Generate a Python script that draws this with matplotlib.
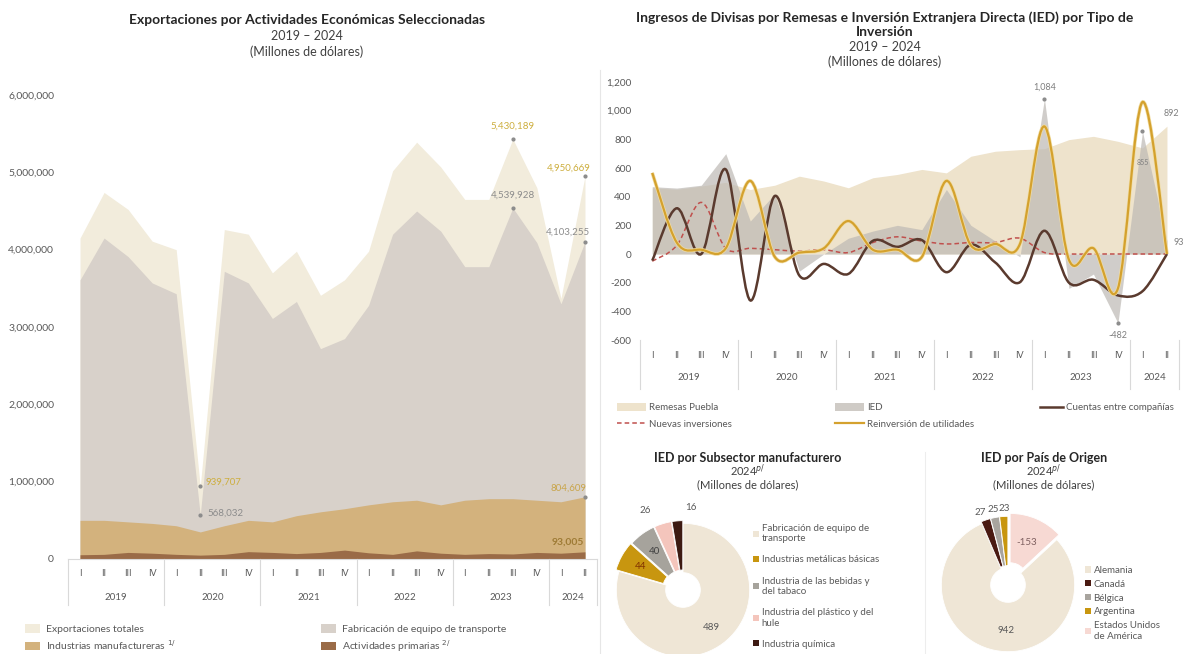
import numpy as np
import matplotlib.pyplot as plt
import matplotlib.transforms as mtransforms
import matplotlib.patheffects as pe
from matplotlib.path import Path
from matplotlib.patches import PathPatch, Patch
from matplotlib.lines import Line2D

plt.rcParams['font.family'] = ['Lato', 'DejaVu Sans']
plt.rcParams['mathtext.fontset'] = 'dejavusans'

W, H = 1184, 654

# ---- datos: eje de trimestres ----
quarters = ['I', 'II', 'III', 'IV'] * 5 + ['I', 'II']
years = ['2019', '2020', '2021', '2022', '2023', '2024']
year_len = [4, 4, 4, 4, 4, 2]

# ---- exportaciones (dolares) ----
exp_totales = [4150000, 4740000, 4520000, 4110000, 4000000, 939707, 4260000, 4200000,
               3700000, 3980000, 3410000, 3610000, 3980000, 5020000, 5390000, 5070000,
               4650000, 4650000, 5430189, 4800000, 3370000, 4950669]
fab_transporte = [3610000, 4150000, 3910000, 3570000, 3430000, 568032, 3720000, 3570000,
                  3110000, 3330000, 2720000, 2850000, 3280000, 4200000, 4500000, 4240000,
                  3780000, 3780000, 4539928, 4090000, 3300000, 4103255]
manufacturas = [500000, 500000, 480000, 460000, 430000, 350000, 430000, 500000,
                480000, 560000, 610000, 650000, 700000, 740000, 760000, 700000,
                760000, 780000, 780000, 760000, 740000, 804609]
primarias = [55000, 60000, 85000, 75000, 60000, 50000, 60000, 95000,
             85000, 70000, 85000, 115000, 80000, 60000, 105000, 75000,
             60000, 70000, 65000, 85000, 75000, 93005]

# ---- remesas e IED (millones) ----
remesas = [462, 451, 474, 500, 450, 480, 543, 509, 462, 532, 555, 590,
           566, 682, 717, 728, 735, 798, 821, 786, 740, 892]
ied = [470, 460, 480, 700, 230, 420, -120, 0, 110, 160, 200, 170,
       450, 200, 90, -20, 1084, -240, -140, -482, 855, 93]
nuevas = [-50, 60, 360, 40, 40, 30, 20, 30, 10, 80, 120, 90,
          70, 80, 80, 110, 10, 0, 0, 0, 0, 0]
reinversion = [566, 80, 30, 40, 510, -20, 10, 40, 230, 30, 30, -20,
               510, 60, 70, 70, 890, -40, 40, -240, 1060, 0]
cuentas = [-46, 319, 0, 590, -324, 405, -150, -69, -139, 92, 50, 97,
           -127, 65, -60, -197, 162, -200, -180, -289, -260, 0]

# ---- donas 2024 ----
sub_labels = ['Fabricación de equipo de\ntransporte', 'Industrias metálicas básicas',
              'Industria de las bebidas y\ndel tabaco', 'Industria del plástico y del\nhule',
              'Industria química']
sub_vals = [489, 44, 40, 26, 16]
pais_labels = ['Alemania', 'Canadá', 'Bélgica', 'Argentina', 'Estados Unidos\nde América']
pais_vals = [942, 27, 25, 23, -153]

GRAY_TXT = '#595959'
GOLD_TXT = '#CDAE3E'
LINE_C = '#D9D9D9'


def rect(x, y, w, h):
    return [x / W, 1 - (y + h) / H, w / W, h / H]


def smooth_path(xs, ys):
    pts = np.column_stack([xs, ys]).astype(float)
    n = len(pts)
    verts = [pts[0]]
    codes = [Path.MOVETO]
    for i in range(n - 1):
        p0 = pts[max(i - 1, 0)]
        p1 = pts[i]
        p2 = pts[i + 1]
        p3 = pts[min(i + 2, n - 1)]
        verts += [p1 + (p2 - p0) / 6, p2 - (p3 - p1) / 6, p2]
        codes += [Path.CURVE4] * 3
    return Path(verts, codes)


def quarter_axis(ax, q_y, y_y, sep_bottom):
    tr = mtransforms.blended_transform_factory(ax.transData, ax.transAxes)
    for i, q in enumerate(quarters):
        ax.text(i, q_y, q, transform=tr, ha='center', va='center', fontsize=6.5, color=GRAY_TXT)
    start = 0
    bounds = [-0.5]
    for yr, n in zip(years, year_len):
        ax.text(start + (n - 1) / 2, y_y, yr, transform=tr, ha='center', va='center',
                fontsize=7, color=GRAY_TXT)
        start += n
        bounds.append(start - 0.5)
    for b in bounds:
        ax.add_line(Line2D([b, b], [0, sep_bottom], transform=tr, color=LINE_C, lw=0.8,
                           clip_on=False))


def mark(ax, i, v, txt, color, dx, dy, ha='center', bold=False, size=7):
    ax.plot(i, v, marker='o', ms=2, color='#8C8C8C', zorder=5)
    ax.annotate(txt, (i, v), xytext=(dx, dy), textcoords='offset points', ha=ha,
                va='center', fontsize=size, color=color,
                fontweight='bold' if bold else 'normal', zorder=6)


def titles(cx, lines, y0, pitch, sizes):
    for k, (txt, bold) in enumerate(lines):
        fig.text(cx / W, 1 - (y0 + k * pitch[k]) / H, txt, ha='center', va='center',
                 fontsize=sizes[k], fontweight='bold' if bold else 'normal',
                 color='#262626' if bold else '#404040')


fig = plt.figure(figsize=(W / 100, H / 100), dpi=100)
x = np.arange(len(quarters))

# ================= exportaciones =================
ax1 = fig.add_axes(rect(68, 95, 529, 464))
ax1.fill_between(x, exp_totales, color='#F2ECDC', lw=0)
ax1.fill_between(x, fab_transporte, color='#D8D1CA', lw=0)
ax1.fill_between(x, manufacturas, color='#D3B27D', lw=0)
ax1.fill_between(x, primarias, color='#9A6B47', lw=0)
ax1.set_xlim(-0.5, 21.5)
ax1.set_ylim(0, 6000000)
ax1.set_xticks([])
ax1.set_yticks(np.arange(0, 6000001, 1000000))
ax1.set_yticklabels([f'{int(v):,}' for v in ax1.get_yticks()], fontsize=7.5, color=GRAY_TXT)
ax1.tick_params(axis='y', length=0, pad=10)
for s in ['top', 'right', 'left']:
    ax1.spines[s].set_visible(False)
ax1.spines['bottom'].set_color(LINE_C)
quarter_axis(ax1, -0.031, -0.082, -0.1)

mark(ax1, 18, exp_totales[18], '5,430,189', GOLD_TXT, 0, 9)
mark(ax1, 18, fab_transporte[18], '4,539,928', '#8C8C8C', 0, 9)
mark(ax1, 21, exp_totales[21], '4,950,669', GOLD_TXT, -12, 6)
mark(ax1, 21, fab_transporte[21], '4,103,255', '#8C8C8C', -12, 7)
mark(ax1, 5, exp_totales[5], '939,707', GOLD_TXT, 4, 3, ha='left')
mark(ax1, 5, fab_transporte[5], '568,032', '#8C8C8C', 5, 1, ha='left')
mark(ax1, 21, manufacturas[21], '804,609', '#C9A54A', -12, 6)
ax1.annotate('93,005', (21, primarias[21]), xytext=(-12, 7), textcoords='offset points',
             ha='center', va='center', fontsize=7.5, color='#9E7B35', fontweight='bold')

titles(307, [('Exportaciones por Actividades Económicas Seleccionadas', True),
             ('2019 – 2024', False), ('(Millones de dólares)', False)],
       20, [0, 16, 16], [10, 9, 9])

h_exp = Patch(facecolor='#F2ECDC')
h_fab = Patch(facecolor='#D8D1CA')
h_man = Patch(facecolor='#D3B27D')
h_pri = Patch(facecolor='#9A6B47')
leg_kw = dict(frameon=False, fontsize=7.5, labelcolor=GRAY_TXT, handlelength=1.4,
              handleheight=0.9, handletextpad=0.6, labelspacing=0.35, borderpad=0)
fig.legend([h_exp, h_man], ['Exportaciones totales', 'Industrias manufactureras $^{1/}$'],
           loc='upper left', bbox_to_anchor=(20 / W, 1 - 619 / H), **leg_kw)
fig.legend([h_fab, h_pri], ['Fabricación de equipo de transporte', 'Actividades primarias $^{2/}$'],
           loc='upper left', bbox_to_anchor=(316 / W, 1 - 619 / H), **leg_kw)

# ================= remesas e IED =================
ax2 = fig.add_axes(rect(640, 82, 538, 258))
ax2.fill_between(x, remesas, color='#EEE3CC', lw=0, zorder=1)
ax2.fill_between(x, ied, color='#BDB9B4', alpha=0.7, lw=0, zorder=2)
ax2.add_patch(PathPatch(smooth_path(x, nuevas), fill=False, ec='#C0504D', lw=1.1,
                        ls=(0, (3, 2)), zorder=3))
ax2.add_patch(PathPatch(smooth_path(x, cuentas), fill=False, ec='#5A3A2E', lw=1.8, zorder=4))
ax2.add_patch(PathPatch(smooth_path(x, reinversion), fill=False, ec='#D4A12E', lw=1.6, zorder=5,
                        path_effects=[pe.Stroke(linewidth=2.6, foreground='#F1DDA2'), pe.Normal()]))
ax2.set_xlim(-0.5, 21.45)
ax2.set_ylim(-600, 1200)
ax2.set_xticks([])
ax2.set_yticks(np.arange(-600, 1201, 200))
ax2.set_yticklabels([f'{int(v):,}' for v in ax2.get_yticks()], fontsize=7.2, color=GRAY_TXT)
ax2.tick_params(axis='y', length=0, pad=6)
for s in ax2.spines.values():
    s.set_visible(False)
quarter_axis(ax2, -0.06, -0.145, -0.19)

mark(ax2, 16, ied[16], '1,084', '#7F7F7F', 0, 8, size=6.5)
mark(ax2, 19, ied[19], '-482', '#7F7F7F', 0, -9, size=6.5)
mark(ax2, 20, ied[20], '855', '#7F7F7F', 0, -22, size=5)
ax2.annotate('892', (21, remesas[21]), xytext=(3, 9), textcoords='offset points', ha='center',
             va='center', fontsize=6.5, color='#7F7F7F')
ax2.annotate('93', (21, ied[21]), xytext=(5, -1), textcoords='offset points', ha='left',
             va='center', fontsize=6.5, color='#7F7F7F')

titles(885, [('Ingresos de Divisas por Remesas e Inversión Extranjera Directa (IED) por Tipo de', True),
             ('Inversión', True), ('2019 – 2024', False), ('(Millones de dólares)', False)],
       18, [0, 14, 14.5, 14.7], [10, 10, 9, 9])

h_rem = Patch(facecolor='#EEE3CC')
h_ied = Patch(facecolor='#CFCBC6')
h_nue = Line2D([], [], color='#C0504D', lw=1.1, ls=(0, (3, 2)))
h_rei = Line2D([], [], color='#D4A12E', lw=1.6)
h_cue = Line2D([], [], color='#5A3A2E', lw=1.8)
leg2 = dict(frameon=False, fontsize=7, labelcolor=GRAY_TXT, handletextpad=0.3,
            handleheight=0.9, labelspacing=0.75, borderpad=0)
fig.legend([h_rem, h_nue], ['Remesas Puebla', 'Nuevas inversiones'], loc='upper left',
           bbox_to_anchor=(612 / W, 1 - 398 / H), handlelength=3.0, **leg2)
fig.legend([h_ied, h_rei], ['IED', 'Reinversión de utilidades'], loc='upper left',
           bbox_to_anchor=(830 / W, 1 - 398 / H), handlelength=3.0, **leg2)
fig.legend([h_cue], ['Cuentas entre compañías'], loc='upper left',
           bbox_to_anchor=(1035 / W, 1 - 398 / H), handlelength=2.4, **leg2)


# ================= donas =================
def donut(cx, cy, vals, colors, explode, startangle, txt_colors, label_r, nudge):
    ax = fig.add_axes(rect(cx - 80, cy - 80, 160, 160))
    wedges, _ = ax.pie(np.abs(vals), colors=colors, startangle=startangle, counterclock=False,
                       explode=explode, radius=1,
                       wedgeprops=dict(width=0.74, edgecolor='white', linewidth=0.6))
    ax.set_xlim(-1.2, 1.2)
    ax.set_ylim(-1.2, 1.2)
    ax.set_aspect('equal')
    ax.axis('off')
    for w, v, c, r, nx in zip(wedges, vals, txt_colors, label_r, nudge):
        ang = np.deg2rad((w.theta1 + w.theta2) / 2)
        px_ = w.center[0] + r * np.cos(ang) + nx
        py_ = w.center[1] + r * np.sin(ang)
        ax.text(px_, py_, f'{v}', ha='center', va='center', fontsize=7, color=c)
    return ax


sub_colors = ['#EFE6D6', '#C8960F', '#A6A39C', '#F4C5BC', '#3D1A12']
donut(683, 590, sub_vals, sub_colors, [0, 0.05, 0.04, 0.04, 0.04], 90,
      ['#595959', '#7F2F00', '#404040', '#595959', '#595959'],
      [0.7, 0.68, 0.68, 1.2, 1.2], [0, 0, 0, -0.2, 0.22])

pais_colors = ['#EFE6D6', '#4A1A12', '#A8A49E', '#C8960F', '#F7D9D3']
pais_start = 90 - abs(pais_vals[-1]) / np.abs(pais_vals).sum() * 360
donut(1008, 585, pais_vals, pais_colors, [0, 0.03, 0.03, 0.03, 0.08], pais_start,
      ['#595959', '#595959', '#595959', '#595959', '#7F6060'],
      [0.7, 1.12, 1.12, 1.12, 0.62], [0.12, -0.05, 0, 0.02, 0])

for cx, ttl in [(748, 'IED por Subsector manufacturero'), (1044, 'IED por País de Origen')]:
    titles(cx, [(ttl, True), ('2024$^{p/}$', False), ('(Millones de dólares)', False)],
           458, [0, 13, 13.5], [9, 8, 8])

leg3 = dict(frameon=False, fontsize=7, labelcolor=GRAY_TXT, handlelength=0.6,
            handleheight=0.6, handletextpad=0.3, borderpad=0)
fig.legend([Patch(facecolor=c) for c in sub_colors], sub_labels, loc='upper left',
           bbox_to_anchor=(748 / W, 1 - 519 / H), labelspacing=1.25, **leg3)
fig.legend([Patch(facecolor=c) for c in pais_colors], pais_labels, loc='upper left',
           bbox_to_anchor=(1080 / W, 1 - 561 / H), labelspacing=0.5, **leg3)

# separadores de paneles
fig.add_artist(Line2D([600 / W, 600 / W], [0, 1 - 70 / H], color='#E6E6E6', lw=0.8))
fig.add_artist(Line2D([925 / W, 925 / W], [0, 1 - 452 / H], color='#EDEDED', lw=0.8))

fig.savefig('out.png', dpi=100)
